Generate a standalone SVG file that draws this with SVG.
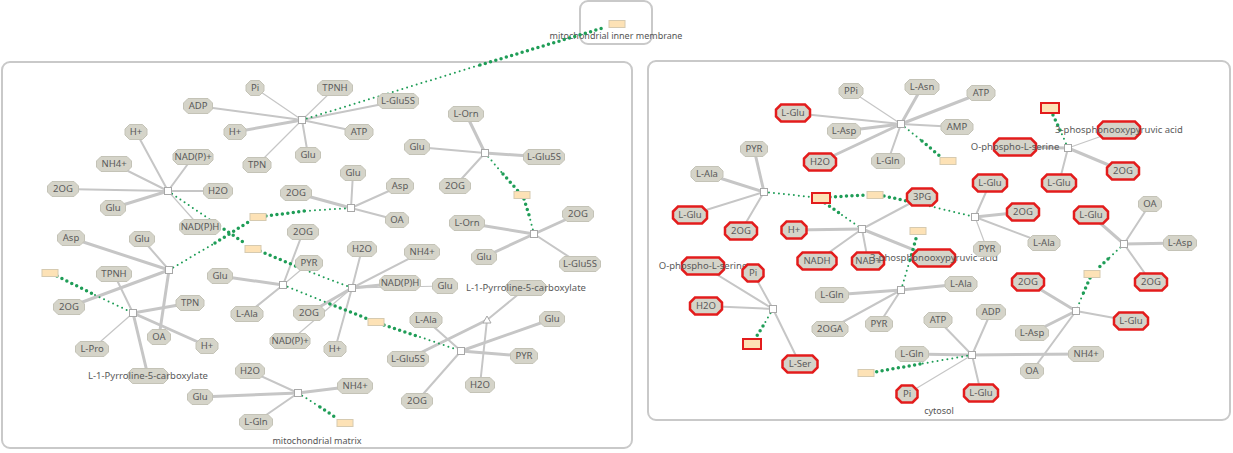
<svg xmlns="http://www.w3.org/2000/svg" xmlns:xlink="http://www.w3.org/1999/xlink" width="1233" height="453" viewBox="0 0 1233 453">
<style>
.e{stroke:#c6c6c6;stroke-linecap:round;fill:none}
.w1{stroke-width:1.2}.w2{stroke-width:2}.w3{stroke-width:3}
.dt{stroke:#1f9d57;stroke-linecap:round;fill:none;stroke-dasharray:0 5;stroke-width:2}
.dk{stroke:#1f9d57;stroke-linecap:round;fill:none;stroke-dasharray:0 5.5;stroke-width:3.5}
.m{fill:#d5d4c9;stroke:#c4c3b7;stroke-width:1}
.hl{fill:#d5d4c9;stroke:#e31c1c;stroke-width:2.5}
text{font-family:"Noto Sans","DejaVu Sans",sans-serif;font-size:9.5px;fill:#5a5a5a;text-anchor:middle}
.cl{font-size:9px;fill:#555}
.rx{fill:#fff;stroke:#a8a8a8;stroke-width:1}
.bx{fill:#fde2b6;stroke:#d6cab0;stroke-width:1}
.rb{fill:#fde2b6;stroke:#e31c1c;stroke-width:2}
.cp{fill:none;stroke:#c9c9c9;stroke-width:2}
</style>
<defs>
<path id="g9" d="M-4.5,-7.5h9l4.5,4.5v6l-4.5,4.5h-9l-4.5,-4.5v-6z"/>
<path id="g11" d="M-6.5,-7.5h13l4.5,4.5v6l-4.5,4.5h-13l-4.5,-4.5v-6z"/>
<path id="g115" d="M-7,-7.5h14l4.5,4.5v6l-4.5,4.5h-14l-4.5,-4.5v-6z"/>
<path id="g12" d="M-7.5,-7.5h15l4.5,4.5v6l-4.5,4.5h-15l-4.5,-4.5v-6z"/>
<path id="g125" d="M-8,-7.5h16l4.5,4.5v6l-4.5,4.5h-16l-4.5,-4.5v-6z"/>
<path id="g135" d="M-9,-7.5h18l4.5,4.5v6l-4.5,4.5h-18l-4.5,-4.5v-6z"/>
<path id="g14" d="M-9.5,-7.5h19l4.5,4.5v6l-4.5,4.5h-19l-4.5,-4.5v-6z"/>
<path id="g145" d="M-10,-7.5h20l4.5,4.5v6l-4.5,4.5h-20l-4.5,-4.5v-6z"/>
<path id="g155" d="M-11,-7.5h22l4.5,4.5v6l-4.5,4.5h-22l-4.5,-4.5v-6z"/>
<path id="g16" d="M-11.5,-7.5h23l4.5,4.5v6l-4.5,4.5h-23l-4.5,-4.5v-6z"/>
<path id="g165" d="M-12,-7.5h24l4.5,4.5v6l-4.5,4.5h-24l-4.5,-4.5v-6z"/>
<path id="g17" d="M-12.5,-7.5h25l4.5,4.5v6l-4.5,4.5h-25l-4.5,-4.5v-6z"/>
<path id="g175" d="M-13,-7.5h26l4.5,4.5v6l-4.5,4.5h-26l-4.5,-4.5v-6z"/>
<path id="g18" d="M-13.5,-7.5h27l4.5,4.5v6l-4.5,4.5h-27l-4.5,-4.5v-6z"/>
<path id="g20" d="M-15.5,-7.5h31l4.5,4.5v6l-4.5,4.5h-31l-4.5,-4.5v-6z"/>
<path id="g205" d="M-16,-7.5h32l4.5,4.5v6l-4.5,4.5h-32l-4.5,-4.5v-6z"/>
<path id="r105" d="M-5.5,-8.5h11l5,5v7l-5,5h-11l-5,-5v-7z"/>
<path id="r125" d="M-7.5,-8.5h15l5,5v7l-5,5h-15l-5,-5v-7z"/>
<path id="r15" d="M-10,-8.5h20l5,5v7l-5,5h-20l-5,-5v-7z"/>
<path id="r16" d="M-11,-8.5h22l5,5v7l-5,5h-22l-5,-5v-7z"/>
<path id="r17" d="M-12,-8.5h24l5,5v7l-5,5h-24l-5,-5v-7z"/>
<path id="r175" d="M-12.5,-8.5h25l5,5v7l-5,5h-25l-5,-5v-7z"/>
<path id="r195" d="M-14.5,-8.5h29l5,5v7l-5,5h-29l-5,-5v-7z"/>
<path id="r21" d="M-16,-8.5h32l5,5v7l-5,5h-32l-5,-5v-7z"/>
<rect id="rq" x="-3.5" y="-3.5" width="7" height="7"/>
</defs>
<rect width="1233" height="453" fill="#fff"/>

<g id="compartments">
<rect class="cp" x="580" y="1" width="72" height="43" rx="8"/>
<text class="cl" x="616" y="39">mitochondrial inner membrane</text>
<rect class="cp" x="2" y="62" width="630" height="386" rx="8"/>
<text class="cl" x="317" y="444">mitochondrial matrix</text>
<rect class="cp" x="648" y="61" width="582" height="359" rx="8"/>
<text class="cl" x="939" y="414">cytosol</text>
</g>

<g id="connectors">
<!-- R1 -->
<line class="e w1" x1="302" y1="120" x2="255" y2="88"/>
<line class="e w2" x1="302" y1="120" x2="198" y2="106"/>
<line class="e w3" x1="302" y1="120" x2="235" y2="132"/>
<line class="e w1" x1="302" y1="120" x2="257" y2="165"/>
<line class="e w2" x1="302" y1="120" x2="308" y2="155"/>
<line class="e w1" x1="302" y1="120" x2="335" y2="88"/>
<line class="e w2" x1="302" y1="120" x2="398" y2="101"/>
<line class="e w2" x1="302" y1="120" x2="359" y2="132"/>
<!-- R2 -->
<line class="e w2" x1="168" y1="191" x2="136" y2="132"/>
<line class="e w2" x1="168" y1="191" x2="193" y2="157"/>
<line class="e w2" x1="168" y1="191" x2="114" y2="164"/>
<line class="e w2" x1="168" y1="191" x2="63" y2="189"/>
<line class="e w2" x1="168" y1="191" x2="218" y2="191"/>
<line class="e w3" x1="168" y1="191" x2="113" y2="208"/>
<line class="e w1" x1="168" y1="191" x2="200" y2="227"/>
<!-- R3 -->
<line class="e w3" x1="169" y1="270" x2="71" y2="238"/>
<line class="e w2" x1="169" y1="270" x2="142" y2="239"/>
<line class="e w3" x1="169" y1="270" x2="69" y2="307"/>
<line class="e w3" x1="169" y1="270" x2="159" y2="337"/>
<!-- R10 -->
<line class="e w2" x1="133" y1="313" x2="114" y2="274"/>
<line class="e w3" x1="133" y1="313" x2="190" y2="303"/>
<line class="e w3" x1="133" y1="313" x2="207" y2="346"/>
<line class="e w1" x1="133" y1="313" x2="92" y2="349"/>
<line class="e w3" x1="133" y1="313" x2="148" y2="376"/>
<!-- R4 -->
<line class="e w2" x1="351" y1="208" x2="353" y2="173"/>
<line class="e w2" x1="351" y1="208" x2="400" y2="186"/>
<line class="e w3" x1="351" y1="208" x2="296" y2="193"/>
<line class="e w2" x1="351" y1="208" x2="397" y2="220"/>
<!-- R12 -->
<line class="e w3" x1="283" y1="285" x2="220" y2="276"/>
<line class="e w1" x1="283" y1="285" x2="309" y2="263"/>
<line class="e w2" x1="283" y1="285" x2="303" y2="232"/>
<line class="e w2" x1="283" y1="285" x2="247" y2="314"/>
<!-- R5 -->
<line class="e w2" x1="352" y1="288" x2="362" y2="249"/>
<line class="e w2" x1="352" y1="288" x2="422" y2="252"/>
<line class="e w3" x1="352" y1="288" x2="400" y2="283"/>
<line class="e w1" x1="352" y1="288" x2="445" y2="286"/>
<line class="e w3" x1="352" y1="288" x2="309" y2="313"/>
<line class="e w2" x1="352" y1="288" x2="335" y2="349"/>
<line class="e w1" x1="352" y1="288" x2="290" y2="341"/>
<!-- R6 / R7 -->
<line class="e w2" x1="461" y1="351" x2="426" y2="320"/>
<line class="e w2" x1="461" y1="351" x2="417" y2="401"/>
<line class="e w3" x1="461" y1="351" x2="524" y2="356"/>
<line class="e w3" x1="461" y1="351" x2="552" y2="319"/>
<line class="e w3" x1="487" y1="320" x2="408" y2="359"/>
<line class="e w2" x1="487" y1="320" x2="526" y2="288"/>
<line class="e w2" x1="487" y1="320" x2="480" y2="385"/>
<!-- R8 -->
<line class="e w3" x1="485" y1="153" x2="466" y2="114"/>
<line class="e w2" x1="485" y1="153" x2="417" y2="147"/>
<line class="e w3" x1="485" y1="153" x2="544" y2="157"/>
<line class="e w2" x1="485" y1="153" x2="455" y2="186"/>
<!-- R9 -->
<line class="e w3" x1="534" y1="234" x2="578" y2="214"/>
<line class="e w3" x1="534" y1="234" x2="467" y2="223"/>
<line class="e w3" x1="534" y1="234" x2="484" y2="257"/>
<line class="e w2" x1="534" y1="234" x2="580" y2="264"/>
<!-- R11 -->
<line class="e w2" x1="298" y1="393" x2="250" y2="371"/>
<line class="e w3" x1="298" y1="393" x2="200" y2="397"/>
<line class="e w2" x1="298" y1="393" x2="256" y2="422"/>
<line class="e w3" x1="298" y1="393" x2="355" y2="386"/>
<!-- R13 -->
<line class="e w1" x1="901" y1="124" x2="851" y2="91"/>
<line class="e w3" x1="901" y1="124" x2="922" y2="87"/>
<line class="e w3" x1="901" y1="124" x2="981" y2="93"/>
<line class="e w2" x1="901" y1="124" x2="957" y2="127"/>
<line class="e w2" x1="901" y1="124" x2="793" y2="113"/>
<line class="e w3" x1="901" y1="124" x2="844" y2="131"/>
<line class="e w3" x1="901" y1="124" x2="820" y2="162"/>
<line class="e w2" x1="901" y1="124" x2="888" y2="161"/>
<!-- R14 -->
<line class="e w3" x1="764" y1="192" x2="754" y2="149"/>
<line class="e w3" x1="764" y1="192" x2="707" y2="174"/>
<line class="e w2" x1="764" y1="192" x2="690" y2="215"/>
<line class="e w2" x1="764" y1="192" x2="741" y2="231"/>
<!-- R16 -->
<line class="e w3" x1="862" y1="229" x2="794" y2="230"/>
<line class="e w2" x1="862" y1="229" x2="817" y2="261"/>
<line class="e w2" x1="862" y1="229" x2="868" y2="261"/>
<line class="e w2" x1="862" y1="229" x2="922" y2="197"/>
<line class="e w3" x1="862" y1="229" x2="934" y2="258"/>
<!-- R17 -->
<line class="e w3" x1="901" y1="290" x2="832" y2="295"/>
<line class="e w3" x1="901" y1="290" x2="961" y2="284"/>
<line class="e w2" x1="901" y1="290" x2="830" y2="329"/>
<line class="e w2" x1="901" y1="290" x2="879" y2="324"/>
<!-- R15 -->
<line class="e w2" x1="975" y1="217" x2="990" y2="183"/>
<line class="e w3" x1="975" y1="217" x2="1023" y2="212"/>
<line class="e w1" x1="975" y1="217" x2="987" y2="249"/>
<line class="e w2" x1="975" y1="217" x2="1044" y2="243"/>
<!-- R18 -->
<line class="e w3" x1="1068" y1="148" x2="1015" y2="147"/>
<line class="e w1" x1="1068" y1="148" x2="1119" y2="130"/>
<line class="e w3" x1="1068" y1="148" x2="1123" y2="171"/>
<line class="e w2" x1="1068" y1="148" x2="1059" y2="183"/>
<!-- R19 -->
<line class="e w3" x1="1124" y1="244" x2="1091" y2="215"/>
<line class="e w2" x1="1124" y1="244" x2="1150" y2="204"/>
<line class="e w3" x1="1124" y1="244" x2="1180" y2="243"/>
<line class="e w2" x1="1124" y1="244" x2="1151" y2="282"/>
<!-- R20 -->
<line class="e w3" x1="1076" y1="311" x2="1028" y2="282"/>
<line class="e w2" x1="1076" y1="311" x2="1131" y2="321"/>
<line class="e w3" x1="1076" y1="311" x2="1032" y2="333"/>
<line class="e w2" x1="1076" y1="311" x2="1032" y2="371"/>
<!-- R21 -->
<line class="e w2" x1="972" y1="355" x2="938" y2="320"/>
<line class="e w2" x1="972" y1="355" x2="991" y2="312"/>
<line class="e w3" x1="972" y1="355" x2="1086" y2="354"/>
<line class="e w2" x1="972" y1="355" x2="981" y2="393"/>
<line class="e w3" x1="972" y1="355" x2="912" y2="354"/>
<line class="e w1" x1="972" y1="355" x2="907" y2="394"/>
<!-- R22 -->
<line class="e w2" x1="773" y1="309" x2="703" y2="266"/>
<line class="e w2" x1="773" y1="309" x2="753" y2="273"/>
<line class="e w2" x1="773" y1="309" x2="706" y2="306"/>
<line class="e w2" x1="773" y1="309" x2="800" y2="364"/>

<!-- dotted transport connectors -->
<line class="dt" x1="302" y1="120" x2="480" y2="65"/>
<line class="dk" x1="480" y1="65" x2="606" y2="27"/>
<line class="dt" x1="168" y1="191" x2="215" y2="223"/>
<line class="dk" x1="215" y1="223" x2="246" y2="244"/>
<line class="dk" x1="260" y1="251" x2="305" y2="270"/>
<line class="dt" x1="305" y1="270" x2="352" y2="288"/>
<line class="dt" x1="169" y1="270" x2="215" y2="243"/>
<line class="dk" x1="215" y1="243" x2="250" y2="221"/>
<line class="dk" x1="266" y1="216" x2="305" y2="211"/>
<line class="dt" x1="305" y1="211" x2="351" y2="208"/>
<line class="dk" x1="57" y1="276" x2="95" y2="295"/>
<line class="dt" x1="95" y1="295" x2="133" y2="313"/>
<line class="dt" x1="283" y1="285" x2="330" y2="304"/>
<line class="dk" x1="330" y1="304" x2="368" y2="319"/>
<line class="dk" x1="384" y1="325" x2="420" y2="337"/>
<line class="dt" x1="420" y1="337" x2="461" y2="351"/>
<line class="dt" x1="485" y1="153" x2="503" y2="174"/>
<line class="dk" x1="503" y1="174" x2="518" y2="191"/>
<line class="dk" x1="524" y1="199" x2="529" y2="215"/>
<line class="dt" x1="529" y1="215" x2="534" y2="234"/>
<line class="dt" x1="298" y1="393" x2="320" y2="407"/>
<line class="dk" x1="320" y1="407" x2="338" y2="419"/>
<line class="dt" x1="901" y1="124" x2="922" y2="141"/>
<line class="dk" x1="922" y1="141" x2="941" y2="157"/>
<line class="dt" x1="764" y1="192" x2="812" y2="197"/>
<line class="dk" x1="830" y1="197" x2="866" y2="195"/>
<line class="dk" x1="884" y1="196" x2="925" y2="205"/>
<line class="dt" x1="925" y1="205" x2="975" y2="217"/>
<line class="dk" x1="825" y1="203" x2="842" y2="215"/>
<line class="dt" x1="842" y1="215" x2="862" y2="229"/>
<line class="dt" x1="901" y1="290" x2="910" y2="260"/>
<line class="dk" x1="910" y1="260" x2="917" y2="235"/>
<line class="dt" x1="1068" y1="148" x2="1060" y2="130"/>
<line class="dk" x1="1060" y1="130" x2="1052" y2="113"/>
<line class="dt" x1="1124" y1="244" x2="1108" y2="259"/>
<line class="dk" x1="1108" y1="259" x2="1096" y2="270"/>
<line class="dk" x1="1090" y1="278" x2="1083" y2="294"/>
<line class="dt" x1="1083" y1="294" x2="1076" y2="311"/>
<line class="dt" x1="972" y1="355" x2="920" y2="364"/>
<line class="dk" x1="920" y1="364" x2="875" y2="372"/>
<line class="dt" x1="773" y1="309" x2="763" y2="326"/>
<line class="dk" x1="763" y1="326" x2="755" y2="339"/>
</g>

<g id="reactions">
<use id="R1" href="#rq" class="rx" x="302" y="120"/>
<use id="R2" href="#rq" class="rx" x="168" y="191"/>
<use id="R3" href="#rq" class="rx" x="169" y="270"/>
<use id="R4" href="#rq" class="rx" x="351" y="208"/>
<use id="R5" href="#rq" class="rx" x="352" y="288"/>
<use id="R6" href="#rq" class="rx" x="461" y="351"/>
<polygon id="R7" class="rx" points="487,316 491,323 483,323"/>
<use id="R8" href="#rq" class="rx" x="485" y="153"/>
<use id="R9" href="#rq" class="rx" x="534" y="234"/>
<use id="R10" href="#rq" class="rx" x="133" y="313"/>
<use id="R11" href="#rq" class="rx" x="298" y="393"/>
<use id="R12" href="#rq" class="rx" x="283" y="285"/>
<use id="R13" href="#rq" class="rx" x="901" y="124"/>
<use id="R14" href="#rq" class="rx" x="764" y="192"/>
<use id="R15" href="#rq" class="rx" x="975" y="217"/>
<use id="R16" href="#rq" class="rx" x="862" y="229"/>
<use id="R17" href="#rq" class="rx" x="901" y="290"/>
<use id="R18" href="#rq" class="rx" x="1068" y="148"/>
<use id="R19" href="#rq" class="rx" x="1124" y="244"/>
<use id="R20" href="#rq" class="rx" x="1076" y="311"/>
<use id="R21" href="#rq" class="rx" x="972" y="355"/>
<use id="R22" href="#rq" class="rx" x="773" y="309"/>
</g>

<g id="boxes">
<rect id="B1" class="bx" x="609" y="20.5" width="16" height="7"/>
<rect id="B2" class="bx" x="245" y="245.5" width="16" height="7"/>
<rect id="B3" class="bx" x="250" y="213.5" width="16" height="7"/>
<rect id="B4" class="bx" x="42" y="269.5" width="16" height="7"/>
<rect id="B5" class="bx" x="368" y="318.5" width="16" height="7"/>
<rect id="B6" class="bx" x="514" y="191.5" width="16" height="7"/>
<rect id="B7" class="bx" x="337" y="419.5" width="16" height="7"/>
<rect id="B8" class="bx" x="940" y="157.5" width="16" height="7"/>
<rect id="B9" class="bx" x="867" y="191.5" width="16" height="7"/>
<rect id="B10" class="bx" x="910" y="227.5" width="16" height="7"/>
<rect id="B11" class="bx" x="1084" y="270.5" width="16" height="7"/>
<rect id="B12" class="bx" x="858" y="369.5" width="16" height="7"/>
<rect id="RB1" class="rb" x="812" y="193" width="18" height="10"/>
<rect id="RB2" class="rb" x="1041" y="103" width="18" height="10"/>
<rect id="RB3" class="rb" x="743" y="339" width="18" height="10"/>
</g>

<g id="n_pi1" transform="translate(255,88)"><use href="#g9" class="m"/><text y="3.3">Pi</text></g>
<g id="n_adp1" transform="translate(198,106)"><use href="#g145" class="m"/><text y="3.3">ADP</text></g>
<g id="n_hp1" transform="translate(235,132)"><use href="#g11" class="m"/><text y="3.3">H+</text></g>
<g id="n_tpn1" transform="translate(257,165)"><use href="#g14" class="m"/><text y="3.3">TPN</text></g>
<g id="n_glu1" transform="translate(308,155)"><use href="#g125" class="m"/><text y="3.3">Glu</text></g>
<g id="n_tpnh1" transform="translate(335,88)"><use href="#g175" class="m"/><text y="3.3">TPNH</text></g>
<g id="n_glu5s1" transform="translate(398,101)"><use href="#g205" class="m"/><text y="3.3">L-Glu5S</text></g>
<g id="n_atp1" transform="translate(359,132)"><use href="#g14" class="m"/><text y="3.3">ATP</text></g>

<g id="n_hp2" transform="translate(136,132)"><use href="#g11" class="m"/><text y="3.3">H+</text></g>
<g id="n_nadp2" transform="translate(193,157)"><use href="#g20" class="m"/><text y="3.3">NAD(P)+</text></g>
<g id="n_nh42" transform="translate(114,164)"><use href="#g175" class="m"/><text y="3.3">NH4+</text></g>
<g id="n_2og2" transform="translate(63,189)"><use href="#g155" class="m"/><text y="3.3">2OG</text></g>
<g id="n_h2o2" transform="translate(218,191)"><use href="#g145" class="m"/><text y="3.3">H2O</text></g>
<g id="n_glu2" transform="translate(113,208)"><use href="#g125" class="m"/><text y="3.3">Glu</text></g>
<g id="n_nadph2" transform="translate(200,227)"><use href="#g205" class="m"/><text y="3.3">NAD(P)H</text></g>

<g id="n_asp3" transform="translate(71,238)"><use href="#g135" class="m"/><text y="3.3">Asp</text></g>
<g id="n_glu3" transform="translate(142,239)"><use href="#g125" class="m"/><text y="3.3">Glu</text></g>
<g id="n_2og3" transform="translate(69,307)"><use href="#g155" class="m"/><text y="3.3">2OG</text></g>
<g id="n_oa3" transform="translate(159,337)"><use href="#g115" class="m"/><text y="3.3">OA</text></g>

<g id="n_tpnh10" transform="translate(114,274)"><use href="#g175" class="m"/><text y="3.3">TPNH</text></g>
<g id="n_tpn10" transform="translate(190,303)"><use href="#g14" class="m"/><text y="3.3">TPN</text></g>
<g id="n_hp10" transform="translate(207,346)"><use href="#g11" class="m"/><text y="3.3">H+</text></g>
<g id="n_pro10" transform="translate(92,349)"><use href="#g165" class="m"/><text y="3.3">L-Pro</text></g>
<g id="n_p5c10" transform="translate(148,376)"><use href="#g20" class="m"/><text y="3.3">L-1-Pyrroline-5-carboxylate</text></g>

<g id="n_glu4" transform="translate(353,173)"><use href="#g125" class="m"/><text y="3.3">Glu</text></g>
<g id="n_asp4" transform="translate(400,186)"><use href="#g135" class="m"/><text y="3.3">Asp</text></g>
<g id="n_2og4" transform="translate(296,193)"><use href="#g155" class="m"/><text y="3.3">2OG</text></g>
<g id="n_oa4" transform="translate(397,220)"><use href="#g115" class="m"/><text y="3.3">OA</text></g>

<g id="n_glu12" transform="translate(220,276)"><use href="#g125" class="m"/><text y="3.3">Glu</text></g>
<g id="n_pyr12" transform="translate(309,263)"><use href="#g135" class="m"/><text y="3.3">PYR</text></g>
<g id="n_2og12" transform="translate(303,232)"><use href="#g155" class="m"/><text y="3.3">2OG</text></g>
<g id="n_ala12" transform="translate(247,314)"><use href="#g16" class="m"/><text y="3.3">L-Ala</text></g>

<g id="n_h2o5" transform="translate(362,249)"><use href="#g145" class="m"/><text y="3.3">H2O</text></g>
<g id="n_nh45" transform="translate(422,252)"><use href="#g175" class="m"/><text y="3.3">NH4+</text></g>
<g id="n_nadph5" transform="translate(400,283)"><use href="#g205" class="m"/><text y="3.3">NAD(P)H</text></g>
<g id="n_glu5" transform="translate(445,286)"><use href="#g125" class="m"/><text y="3.3">Glu</text></g>
<g id="n_2og5" transform="translate(309,313)"><use href="#g155" class="m"/><text y="3.3">2OG</text></g>
<g id="n_hp5" transform="translate(335,349)"><use href="#g11" class="m"/><text y="3.3">H+</text></g>
<g id="n_nadp5" transform="translate(290,341)"><use href="#g20" class="m"/><text y="3.3">NAD(P)+</text></g>

<g id="n_ala6" transform="translate(426,320)"><use href="#g16" class="m"/><text y="3.3">L-Ala</text></g>
<g id="n_glu5s6" transform="translate(408,359)"><use href="#g205" class="m"/><text y="3.3">L-Glu5S</text></g>
<g id="n_2og6" transform="translate(417,401)"><use href="#g155" class="m"/><text y="3.3">2OG</text></g>
<g id="n_h2o6" transform="translate(480,385)"><use href="#g145" class="m"/><text y="3.3">H2O</text></g>
<g id="n_pyr6" transform="translate(524,356)"><use href="#g135" class="m"/><text y="3.3">PYR</text></g>
<g id="n_glu6" transform="translate(552,319)"><use href="#g125" class="m"/><text y="3.3">Glu</text></g>
<g id="n_p5c7" transform="translate(526,288)"><use href="#g20" class="m"/><text y="3.3">L-1-Pyrroline-5-carboxylate</text></g>

<g id="n_orn8" transform="translate(466,114)"><use href="#g175" class="m"/><text y="3.3">L-Orn</text></g>
<g id="n_glu8" transform="translate(417,147)"><use href="#g125" class="m"/><text y="3.3">Glu</text></g>
<g id="n_glu5s8" transform="translate(544,157)"><use href="#g205" class="m"/><text y="3.3">L-Glu5S</text></g>
<g id="n_2og8" transform="translate(455,186)"><use href="#g155" class="m"/><text y="3.3">2OG</text></g>

<g id="n_2og9" transform="translate(578,214)"><use href="#g155" class="m"/><text y="3.3">2OG</text></g>
<g id="n_orn9" transform="translate(467,223)"><use href="#g175" class="m"/><text y="3.3">L-Orn</text></g>
<g id="n_glu9" transform="translate(484,257)"><use href="#g125" class="m"/><text y="3.3">Glu</text></g>
<g id="n_glu5s9" transform="translate(580,264)"><use href="#g205" class="m"/><text y="3.3">L-Glu5S</text></g>

<g id="n_h2o11" transform="translate(250,371)"><use href="#g145" class="m"/><text y="3.3">H2O</text></g>
<g id="n_glu11" transform="translate(200,397)"><use href="#g125" class="m"/><text y="3.3">Glu</text></g>
<g id="n_gln11" transform="translate(256,422)"><use href="#g165" class="m"/><text y="3.3">L-Gln</text></g>
<g id="n_nh411" transform="translate(355,386)"><use href="#g175" class="m"/><text y="3.3">NH4+</text></g>

<g id="c_ppi13" transform="translate(851,91)"><use href="#g12" class="m"/><text y="3.3">PPi</text></g>
<g id="c_asn13" transform="translate(922,87)"><use href="#g17" class="m"/><text y="3.3">L-Asn</text></g>
<g id="c_atp13" transform="translate(981,93)"><use href="#g14" class="m"/><text y="3.3">ATP</text></g>
<g id="c_amp13" transform="translate(957,127)"><use href="#g16" class="m"/><text y="3.3">AMP</text></g>
<g id="c_glu13" transform="translate(793,113)"><use href="#r17" class="hl"/><text y="3.3">L-Glu</text></g>
<g id="c_asp13" transform="translate(844,131)"><use href="#g165" class="m"/><text y="3.3">L-Asp</text></g>
<g id="c_h2o13" transform="translate(820,162)"><use href="#r16" class="hl"/><text y="3.3">H2O</text></g>
<g id="c_gln13" transform="translate(888,161)"><use href="#g165" class="m"/><text y="3.3">L-Gln</text></g>

<g id="c_pyr14" transform="translate(754,149)"><use href="#g135" class="m"/><text y="3.3">PYR</text></g>
<g id="c_ala14" transform="translate(707,174)"><use href="#g16" class="m"/><text y="3.3">L-Ala</text></g>
<g id="c_glu14" transform="translate(690,215)"><use href="#r17" class="hl"/><text y="3.3">L-Glu</text></g>
<g id="c_2og14" transform="translate(741,231)"><use href="#r16" class="hl"/><text y="3.3">2OG</text></g>

<g id="c_hp16" transform="translate(794,230)"><use href="#r125" class="hl"/><text y="3.3">H+</text></g>
<g id="c_nadh16" transform="translate(817,261)"><use href="#r195" class="hl"/><text y="3.3">NADH</text></g>
<g id="c_nad16" transform="translate(868,261)"><use href="#r16" class="hl"/><text y="3.3">NAD+</text></g>
<g id="c_3pg16" transform="translate(922,197)"><use href="#r15" class="hl"/><text y="3.3">3PG</text></g>
<g id="c_3ppa16" transform="translate(934,258)"><use href="#r21" class="hl"/><text y="3.3">3-phosphonooxypyruvic acid</text></g>

<g id="c_gln17" transform="translate(832,295)"><use href="#g165" class="m"/><text y="3.3">L-Gln</text></g>
<g id="c_ala17" transform="translate(961,284)"><use href="#g16" class="m"/><text y="3.3">L-Ala</text></g>
<g id="c_2oga17" transform="translate(830,329)"><use href="#g18" class="m"/><text y="3.3">2OGA</text></g>
<g id="c_pyr17" transform="translate(879,324)"><use href="#g135" class="m"/><text y="3.3">PYR</text></g>

<g id="c_glu15" transform="translate(990,183)"><use href="#r17" class="hl"/><text y="3.3">L-Glu</text></g>
<g id="c_2og15" transform="translate(1023,212)"><use href="#r16" class="hl"/><text y="3.3">2OG</text></g>
<g id="c_pyr15" transform="translate(987,249)"><use href="#g135" class="m"/><text y="3.3">PYR</text></g>
<g id="c_ala15" transform="translate(1044,243)"><use href="#g16" class="m"/><text y="3.3">L-Ala</text></g>

<g id="c_ops18" transform="translate(1015,147)"><use href="#r21" class="hl"/><text y="3.3">O-phospho-L-serine</text></g>
<g id="c_3ppa18" transform="translate(1119,130)"><use href="#r21" class="hl"/><text y="3.3">3-phosphonooxypyruvic acid</text></g>
<g id="c_2og18" transform="translate(1123,171)"><use href="#r16" class="hl"/><text y="3.3">2OG</text></g>
<g id="c_glu18" transform="translate(1059,183)"><use href="#r17" class="hl"/><text y="3.3">L-Glu</text></g>

<g id="c_glu19" transform="translate(1091,215)"><use href="#r17" class="hl"/><text y="3.3">L-Glu</text></g>
<g id="c_oa19" transform="translate(1150,204)"><use href="#g115" class="m"/><text y="3.3">OA</text></g>
<g id="c_asp19" transform="translate(1180,243)"><use href="#g165" class="m"/><text y="3.3">L-Asp</text></g>
<g id="c_2og19" transform="translate(1151,282)"><use href="#r16" class="hl"/><text y="3.3">2OG</text></g>

<g id="c_2og20" transform="translate(1028,282)"><use href="#r16" class="hl"/><text y="3.3">2OG</text></g>
<g id="c_glu20" transform="translate(1131,321)"><use href="#r17" class="hl"/><text y="3.3">L-Glu</text></g>
<g id="c_asp20" transform="translate(1032,333)"><use href="#g165" class="m"/><text y="3.3">L-Asp</text></g>
<g id="c_oa20" transform="translate(1032,371)"><use href="#g115" class="m"/><text y="3.3">OA</text></g>

<g id="c_atp21" transform="translate(938,320)"><use href="#g14" class="m"/><text y="3.3">ATP</text></g>
<g id="c_adp21" transform="translate(991,312)"><use href="#g145" class="m"/><text y="3.3">ADP</text></g>
<g id="c_nh421" transform="translate(1086,354)"><use href="#g175" class="m"/><text y="3.3">NH4+</text></g>
<g id="c_glu21" transform="translate(981,393)"><use href="#r17" class="hl"/><text y="3.3">L-Glu</text></g>
<g id="c_gln21" transform="translate(912,354)"><use href="#g165" class="m"/><text y="3.3">L-Gln</text></g>
<g id="c_pi21" transform="translate(907,394)"><use href="#r105" class="hl"/><text y="3.3">Pi</text></g>

<g id="c_ops22" transform="translate(703,266)"><use href="#r21" class="hl"/><text y="3.3">O-phospho-L-serine</text></g>
<g id="c_pi22" transform="translate(753,273)"><use href="#r105" class="hl"/><text y="3.3">Pi</text></g>
<g id="c_h2o22" transform="translate(706,306)"><use href="#r16" class="hl"/><text y="3.3">H2O</text></g>
<g id="c_ser22" transform="translate(800,364)"><use href="#r175" class="hl"/><text y="3.3">L-Ser</text></g>
</svg>
